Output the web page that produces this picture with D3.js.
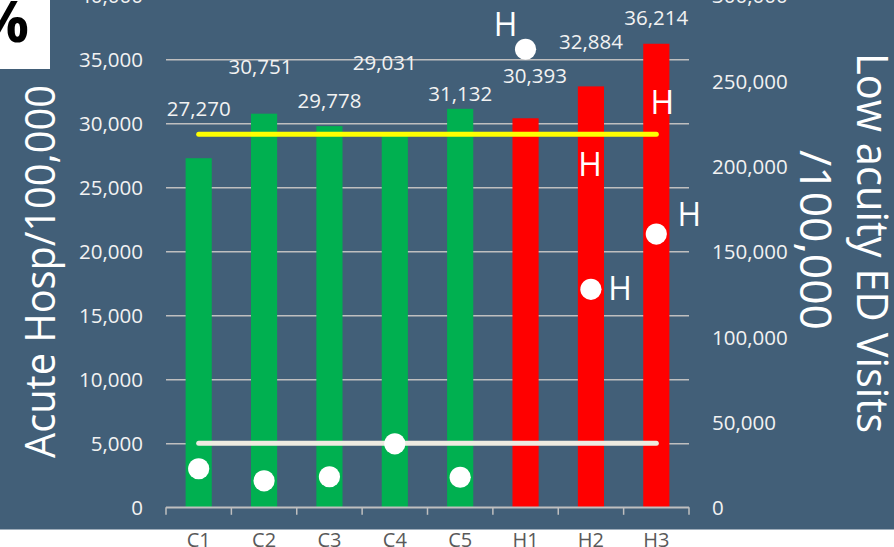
<!DOCTYPE html>
<html>
<head>
<meta charset="utf-8">
<script src="https://cdn.jsdelivr.net/npm/d3@7"></script>
<style>
  html, body { margin: 0; padding: 0; background: #ffffff; }
  svg { display: block; }
  text { font-family: "Open Sans", "DejaVu Sans", sans-serif; }
</style>
</head>
<body>
<svg id="chart" width="894" height="547"></svg>
<script>
// ---------- data ----------
const categories = ["C1", "C2", "C3", "C4", "C5", "H1", "H2", "H3"];
const groups = ["C", "C", "C", "C", "C", "H", "H", "H"];
const acuteHosp = [27270, 30751, 29778, 29031, 31132, 30393, 32884, 36214];
const lowAcuityED = [22600, 15500, 17900, 37200, 17600, 268400, 127700, 160100];
const yellowLineValue = 29150;   // left axis units
const whiteLineValue = 5000;     // left axis units
const leftTicks = [0, 5000, 10000, 15000, 20000, 25000, 30000, 35000, 40000];
const rightTicks = [0, 50000, 100000, 150000, 200000, 250000, 300000];
const leftTitle = "Acute Hosp/100,000";
const rightTitle1 = "Low acuity ED Visits";
const rightTitle2 = "/100,000";
const hAnnotations = ["H1", "H2", "H2", "H3", "H3"];
const hAnchor = ["dot", "bar", "dot", "bar", "dot"];

// ---------- layout (not data) ----------
const labelOffsets = [[0, -50], [-3.5, -46.7], [0, -25.4], [-10, -73.2], [0, -15.3], [9.5, -42.8], [0, -44.4], [0, -25.8]];
const hOffsets = [[-20, -25], [-1, 78.6], [29, -1], [6, 58.7], [33, -19]];
const colors = { C: "#00B050", H: "#FF0000" };

const svg = d3.select("#chart");
const W = 894, H = 547;
const plotLeft = 166, plotRight = 689, yZero = 507.3, yTop = -4.7;

// background
svg.append("rect").attr("x", 0).attr("y", 0).attr("width", W).attr("height", 529.5).attr("fill", "#425F78");

// scales
const x = d3.scaleBand().domain(categories).range([plotLeft, plotRight]).paddingInner(0.6).paddingOuter(0.3);
const yL = d3.scaleLinear().domain([0, 40000]).range([yZero, yTop]);
const yR = d3.scaleLinear().domain([0, 300000]).range([yZero, yTop]);
const cx = c => x(c) + x.bandwidth() / 2;

// left axis with gridlines
const leftAxis = svg.append("g").attr("transform", `translate(${plotLeft},0)`)
  .call(d3.axisLeft(yL).tickValues(leftTicks).tickFormat(d3.format(","))
    .tickSizeInner(-(plotRight - plotLeft)).tickSizeOuter(0).tickPadding(23));
leftAxis.select(".domain").remove();
leftAxis.selectAll(".tick line").attr("stroke", "#BFBFBF").attr("stroke-width", 1.5);
leftAxis.selectAll(".tick text").attr("fill", "#F2F2F2").attr("font-size", 20.5)
  .attr("font-family", "'Open Sans', sans-serif").attr("dy", "0.36em");

// right axis
const rightAxis = svg.append("g").attr("transform", `translate(${plotRight},0)`)
  .call(d3.axisRight(yR).tickValues(rightTicks).tickFormat(d3.format(","))
    .tickSize(0).tickPadding(23));
rightAxis.select(".domain").remove();
rightAxis.selectAll(".tick text").attr("fill", "#F2F2F2").attr("font-size", 20.5)
  .attr("font-family", "'Open Sans', sans-serif").attr("dy", "0.36em");

// bars
svg.append("g").selectAll("rect").data(categories).join("rect")
  .attr("x", c => x(c))
  .attr("y", (c, i) => yL(acuteHosp[i]))
  .attr("width", x.bandwidth())
  .attr("height", (c, i) => yL(0) - yL(acuteHosp[i]))
  .attr("fill", (c, i) => colors[groups[i]]);

// bottom axis line + tick marks at band boundaries
const bottom = svg.append("g");
bottom.append("line").attr("x1", plotLeft).attr("x2", plotRight).attr("y1", yZero).attr("y2", yZero)
  .attr("stroke", "#BFBFBF").attr("stroke-width", 1.5);
const boundaries = d3.range(categories.length + 1).map(i => plotLeft + i * x.step());
bottom.selectAll("line.tk").data(boundaries).join("line").attr("class", "tk")
  .attr("x1", d => d).attr("x2", d => d).attr("y1", yZero).attr("y2", yZero + 7.5)
  .attr("stroke", "#BFBFBF").attr("stroke-width", 1.5);

// category labels
svg.append("g").selectAll("text").data(categories).join("text")
  .attr("x", c => cx(c)).attr("y", 546.5)
  .attr("text-anchor", "middle").attr("font-size", 20).attr("fill", "#595959")
  .text(c => c);

// reference lines
const first = categories[0], last = categories[categories.length - 1];
svg.append("line").attr("x1", cx(first)).attr("x2", cx(last))
  .attr("y1", yL(yellowLineValue)).attr("y2", yL(yellowLineValue))
  .attr("stroke", "#FFFF00").attr("stroke-width", 5).attr("stroke-linecap", "round");
svg.append("line").attr("x1", cx(first)).attr("x2", cx(last))
  .attr("y1", yL(whiteLineValue)).attr("y2", yL(whiteLineValue))
  .attr("stroke", "#EEEBE1").attr("stroke-width", 5).attr("stroke-linecap", "round");

// dots (right axis)
svg.append("g").selectAll("circle").data(categories).join("circle")
  .attr("cx", c => cx(c)).attr("cy", (c, i) => yR(lowAcuityED[i]))
  .attr("r", 10.6).attr("fill", "#FFFFFF");

// data labels
svg.append("g").selectAll("text").data(categories).join("text")
  .attr("x", (c, i) => cx(c) + labelOffsets[i][0])
  .attr("y", (c, i) => yL(acuteHosp[i]) + labelOffsets[i][1] + 0.357 * 20.5)
  .attr("text-anchor", "middle").attr("font-size", 20.5).attr("fill", "#F2F2F2")
  .text((c, i) => d3.format(",")(acuteHosp[i]));

// H annotations
svg.append("g").selectAll("text").data(hAnnotations).join("text")
  .attr("x", (c, k) => cx(c) + hOffsets[k][0])
  .attr("y", (c, k) => {
    const i = categories.indexOf(c);
    const base = hAnchor[k] === "dot" ? yR(lowAcuityED[i]) : yL(acuteHosp[i]);
    return base + hOffsets[k][1] + 0.357 * 32;
  })
  .attr("text-anchor", "middle").attr("font-size", 32).attr("fill", "#FFFFFF")
  .text("H");

// axis titles
svg.append("text").attr("transform", "translate(55,271.5) rotate(-90)")
  .attr("text-anchor", "middle").attr("font-size", 42).attr("fill", "#FFFFFF")
  .attr("textLength", 373).attr("lengthAdjust", "spacingAndGlyphs")
  .text(leftTitle);
svg.append("text").attr("transform", "translate(857,243) rotate(90)")
  .attr("text-anchor", "middle").attr("font-size", 43).attr("fill", "#FFFFFF")
  .attr("textLength", 380).attr("lengthAdjust", "spacingAndGlyphs")
  .text(rightTitle1);
svg.append("text").attr("transform", "translate(800,240) rotate(90)")
  .attr("text-anchor", "middle").attr("font-size", 43).attr("fill", "#FFFFFF")
  .attr("textLength", 180).attr("lengthAdjust", "spacingAndGlyphs")
  .text(rightTitle2);

// top-left white box with "%"
svg.append("rect").attr("x", 0).attr("y", 0).attr("width", 50).attr("height", 69).attr("fill", "#FFFFFF");
svg.append("text").attr("x", 29).attr("y", 42).attr("text-anchor", "end")
  .attr("font-size", 58).attr("font-weight", "bold").attr("fill", "#000000")
  .text("%");
</script>
</body>
</html>
